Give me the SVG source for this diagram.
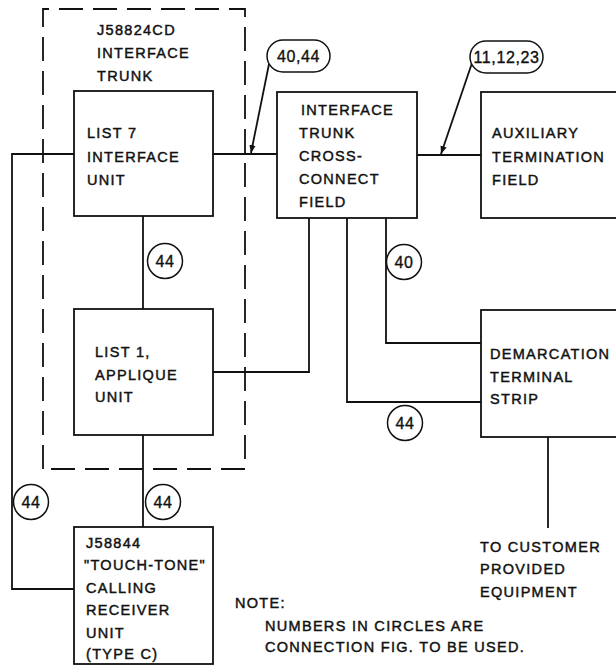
<svg xmlns="http://www.w3.org/2000/svg" width="616" height="667" viewBox="0 0 616 667">
<defs>
<marker id="ah" viewBox="0 0 10 10" refX="10" refY="5" markerWidth="8" markerHeight="8" markerUnits="userSpaceOnUse" orient="auto">
<path d="M0,1 L10,5 L0,9 Z" fill="#111"/>
</marker>
</defs>
<style>
.box{fill:#fff;stroke:#111;stroke-width:1.8}
.ln{fill:none;stroke:#111;stroke-width:1.8}
.dash{fill:none;stroke:#111;stroke-width:1.8;stroke-dasharray:24 10}
.t{font-family:"Liberation Sans",Arial,sans-serif;font-size:14.5px;letter-spacing:1.3px;fill:#111;stroke:#111;stroke-width:0.45}
.c{fill:#fff;stroke:#111;stroke-width:1.5}
.ct{font-family:"Liberation Sans",Arial,sans-serif;font-size:16px;letter-spacing:0.6px;fill:#111;stroke:#111;stroke-width:0.35;text-anchor:middle}
</style>
<rect width="616" height="667" fill="#fff"/>

<g id="connectors">
<path class="ln" d="M213,154 H277"/>
<path class="ln" d="M417,155 H481"/>
<path class="ln" d="M74,154 H12 V589 H74"/>
<path class="ln" d="M143,216 V309"/>
<path class="ln" d="M143,435 V527"/>
<path class="ln" d="M309,218 V372 H213"/>
<path class="ln" d="M347,218 V402 H481"/>
<path class="ln" d="M386,218 V343 H481"/>
<path class="ln" d="M548,437 V528"/>
<path class="ln" d="M269,64 L251,153" marker-end="url(#ah)"/>
<path class="ln" d="M472,63 L441,154" marker-end="url(#ah)"/>
</g>

<g id="j58824cd">
<path class="dash" d="M43,469 V9 H245 V469 Z"/>
<text class="t" x="97" y="35">J58824CD</text>
<text class="t" x="97" y="58">INTERFACE</text>
<text class="t" x="97" y="81">TRUNK</text>
</g>

<g id="list7">
<rect class="box" x="74" y="91" width="139" height="125"/>
<text class="t" x="87" y="138">LIST 7</text>
<text class="t" x="87" y="162">INTERFACE</text>
<text class="t" x="87" y="185">UNIT</text>
</g>

<g id="list1">
<rect class="box" x="74" y="309" width="139" height="126"/>
<text class="t" x="95" y="357">LIST 1,</text>
<text class="t" x="95" y="380">APPLIQUE</text>
<text class="t" x="95" y="402">UNIT</text>
</g>

<g id="iccf">
<rect class="box" x="277" y="92" width="140" height="126"/>
<text class="t" x="301" y="115">INTERFACE</text>
<text class="t" x="299" y="138">TRUNK</text>
<text class="t" x="299" y="161">CROSS-</text>
<text class="t" x="299" y="184">CONNECT</text>
<text class="t" x="299" y="207">FIELD</text>
</g>

<g id="aux">
<rect class="box" x="481" y="92" width="150" height="126"/>
<text class="t" x="492" y="138">AUXILIARY</text>
<text class="t" x="492" y="162">TERMINATION</text>
<text class="t" x="492" y="185">FIELD</text>
</g>

<g id="demarc">
<rect class="box" x="481" y="310" width="150" height="127"/>
<text class="t" x="490" y="359">DEMARCATION</text>
<text class="t" x="490" y="382">TERMINAL</text>
<text class="t" x="490" y="404">STRIP</text>
</g>

<g id="touchtone">
<rect class="box" x="74" y="527" width="139" height="137"/>
<text class="t" x="86" y="548">J58844</text>
<text class="t" x="84" y="570">"TOUCH-TONE"</text>
<text class="t" x="86" y="593">CALLING</text>
<text class="t" x="86" y="615">RECEIVER</text>
<text class="t" x="86" y="638">UNIT</text>
<text class="t" x="86" y="659">(TYPE C)</text>
</g>

<g id="customer">
<text class="t" x="480" y="552">TO CUSTOMER</text>
<text class="t" x="480" y="574">PROVIDED</text>
<text class="t" x="480" y="597">EQUIPMENT</text>
</g>

<g id="note">
<text class="t" x="235" y="608">NOTE:</text>
<text class="t" x="265" y="631">NUMBERS IN CIRCLES ARE</text>
<text class="t" x="265" y="652">CONNECTION FIG. TO BE USED.</text>
</g>

<g id="tag-40-44">
<rect class="c" x="267" y="40" width="63" height="32" rx="16"/>
<text class="ct" x="298.5" y="62">40,44</text>
</g>
<g id="tag-11-12-23">
<rect class="c" x="470" y="41" width="73" height="32" rx="16"/>
<text class="ct" x="506.5" y="63">11,12,23</text>
</g>

<g id="c1"><circle class="c" cx="165" cy="261" r="17.5"/><text class="ct" x="165" y="267">44</text></g>
<g id="c2"><circle class="c" cx="404" cy="262" r="17.5"/><text class="ct" x="404" y="268">40</text></g>
<g id="c3"><circle class="c" cx="405" cy="423" r="17.5"/><text class="ct" x="405" y="429">44</text></g>
<g id="c4"><circle class="c" cx="31" cy="502" r="17.5"/><text class="ct" x="31" y="508">44</text></g>
<g id="c5"><circle class="c" cx="163" cy="502" r="17.5"/><text class="ct" x="163" y="508">44</text></g>
</svg>
